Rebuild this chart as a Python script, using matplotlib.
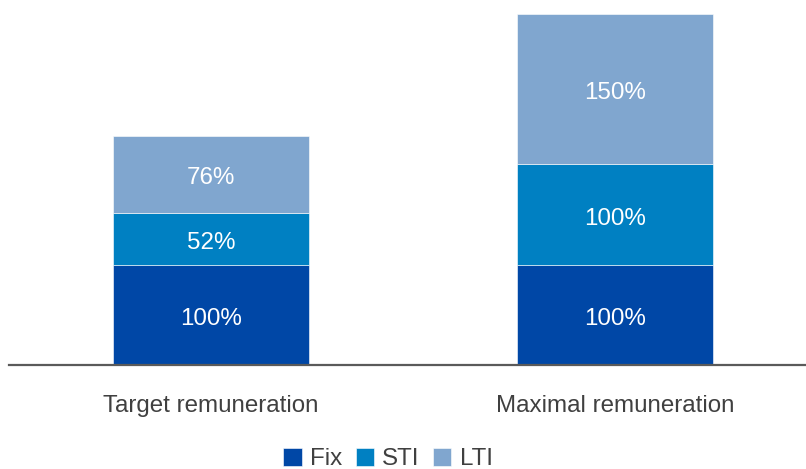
import numpy as np
import matplotlib.pyplot as plt

plt.rcParams['font.family'] = ['Liberation Sans', 'DejaVu Sans']

categories = ['Target remuneration', 'Maximal remuneration']
fix = [100, 100]
sti = [52, 100]
lti = [76, 150]
series = [('Fix', fix, '#0047a6'), ('STI', sti, '#0080c2'), ('LTI', lti, '#80a6cf')]

fig = plt.figure(figsize=(8.06, 4.69), dpi=100)
ax = fig.add_axes([9 / 806, 104 / 469, 797 / 806, 365 / 469])

fs = 17.4
x = np.arange(len(categories))
bottom = np.zeros(len(categories))
for name, vals, col in series:
    ax.bar(x, vals, width=0.485, bottom=bottom, color=col, label=name,
           edgecolor='white', linewidth=0.4)
    for xi, b, v in zip(x, bottom, vals):
        ax.text(xi, b + v / 2 - 4, f'{v}%', ha='center', va='center',
                color='white', fontsize=fs)
    bottom += vals

ax.set_xlim(-0.5, 1.473)
ax.set_ylim(0, 364)
ax.set_yticks([])
ax.set_xticks(x)
ax.set_xticklabels(categories, fontsize=fs, color='#404040')
ax.tick_params(axis='x', length=0, pad=21.5)
for s in ['top', 'right', 'left']:
    ax.spines[s].set_visible(False)
ax.spines['bottom'].set_color('#5a5a5a')
ax.spines['bottom'].set_linewidth(1.6)

handles, labels = ax.get_legend_handles_labels()
fig.legend(handles, labels, loc='center', bbox_to_anchor=(388 / 806, 10 / 469), ncol=3,
           frameon=False, fontsize=fs, handlelength=0.75, handleheight=0.75,
           handletextpad=0.35, columnspacing=0.55, labelcolor='#404040',
           borderpad=0, borderaxespad=0)

fig.savefig('out.png', dpi=100)
